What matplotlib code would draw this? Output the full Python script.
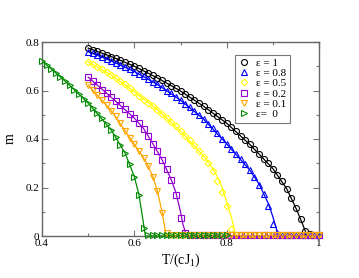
import numpy as np
import matplotlib
matplotlib.use("Agg")
import matplotlib.pyplot as plt
from matplotlib.ticker import MultipleLocator

# ---------------- data ----------------
T_green = [0.40, 0.41, 0.42, 0.43, 0.44, 0.45, 0.46, 0.47, 0.48, 0.49,
           0.50, 0.51, 0.52, 0.53, 0.54, 0.55, 0.56, 0.57, 0.58, 0.59,
           0.60, 0.61, 0.62, 0.63, 0.64, 0.65, 0.66, 0.67, 0.68, 0.69,
           0.70, 0.71, 0.72, 0.73, 0.74, 0.75, 0.76, 0.77, 0.78, 0.79, 0.80]
m_green = [0.722, 0.706, 0.690, 0.673, 0.656, 0.639, 0.622, 0.604, 0.586, 0.567,
           0.548, 0.528, 0.508, 0.487, 0.463, 0.437, 0.408, 0.377, 0.342, 0.298,
           0.245, 0.170, 0.035, 0.005, 0.005, 0.005, 0.005, 0.005, 0.005, 0.005,
           0.005, 0.005, 0.005, 0.005, 0.005, 0.005, 0.005, 0.005, 0.005, 0.005, 0.005]

T_sim = [0.50, 0.51, 0.52, 0.53, 0.54, 0.55, 0.56, 0.57, 0.58, 0.59,
         0.60, 0.61, 0.62, 0.63, 0.64, 0.65, 0.66, 0.67, 0.68, 0.69,
         0.70, 0.71, 0.72, 0.73, 0.74, 0.75, 0.76, 0.77, 0.78, 0.79,
         0.80, 0.81, 0.82, 0.83, 0.84, 0.85, 0.86, 0.87, 0.88, 0.89,
         0.90, 0.91, 0.92, 0.93, 0.94, 0.95, 0.96, 0.97, 0.98, 0.99, 1.00]

m_eps1 = [0.775, 0.768, 0.761, 0.754, 0.747, 0.740, 0.732, 0.724, 0.716, 0.708,
          0.700, 0.691, 0.681, 0.672, 0.662, 0.652, 0.642, 0.631, 0.620, 0.609,
          0.598, 0.586, 0.574, 0.561, 0.548, 0.535, 0.521, 0.507, 0.493, 0.479,
          0.465, 0.448, 0.431, 0.414, 0.396, 0.378, 0.359, 0.339, 0.319, 0.299,
          0.278, 0.253, 0.226, 0.195, 0.158, 0.115, 0.070, 0.022, 0.010, 0.006, 0.005]

m_eps08 = [0.760, 0.753, 0.746, 0.738, 0.730, 0.722, 0.714, 0.705, 0.697, 0.688,
           0.678, 0.668, 0.658, 0.648, 0.637, 0.625, 0.613, 0.600, 0.588, 0.574,
           0.560, 0.545, 0.530, 0.515, 0.499, 0.482, 0.463, 0.444, 0.424, 0.402,
           0.380, 0.360, 0.339, 0.318, 0.295, 0.272, 0.244, 0.212, 0.175, 0.125,
           0.050, 0.012, 0.005, 0.005, 0.005, 0.005, 0.005, 0.005, 0.005, 0.005, 0.005]

m_eps05 = [0.718, 0.708, 0.697, 0.687, 0.676, 0.664, 0.652, 0.639, 0.626, 0.611,
           0.595, 0.579, 0.562, 0.548, 0.535, 0.521, 0.505, 0.488, 0.470, 0.452,
           0.433, 0.414, 0.395, 0.374, 0.352, 0.327, 0.300, 0.268, 0.228, 0.180,
           0.122, 0.030, 0.005, 0.005, 0.005, 0.005, 0.005, 0.005, 0.005, 0.005,
           0.005, 0.005, 0.005, 0.005, 0.005, 0.005, 0.005, 0.005, 0.005, 0.005, 0.005]

m_eps02 = [0.655, 0.638, 0.621, 0.604, 0.588, 0.572, 0.556, 0.539, 0.522, 0.504,
           0.486, 0.467, 0.443, 0.413, 0.381, 0.349, 0.315, 0.278, 0.232, 0.170,
           0.075, 0.012, 0.005, 0.005, 0.005, 0.005, 0.005, 0.005, 0.005, 0.005,
           0.005, 0.005, 0.005, 0.005, 0.005, 0.005, 0.005, 0.005, 0.005, 0.005,
           0.005, 0.005, 0.005, 0.005, 0.005, 0.005, 0.005, 0.005, 0.005, 0.005, 0.005]

m_eps01 = [0.622, 0.603, 0.583, 0.562, 0.540, 0.517, 0.493, 0.465, 0.434, 0.405,
           0.378, 0.350, 0.322, 0.290, 0.245, 0.185, 0.094, 0.012, 0.005, 0.005,
           0.005, 0.005, 0.005, 0.005, 0.005, 0.005, 0.005, 0.005, 0.005, 0.005,
           0.005, 0.005, 0.005, 0.005, 0.005, 0.005, 0.005, 0.005, 0.005, 0.005,
           0.005, 0.005, 0.005, 0.005, 0.005, 0.005, 0.005, 0.005, 0.005, 0.005, 0.005]

# theory curves (solid lines)
Tl_eps1 = [0.50, 0.55, 0.60, 0.65, 0.70, 0.75, 0.80, 0.85, 0.90, 0.93, 0.95, 0.96, 0.97, 0.975, 1.00]
ml_eps1 = [0.775, 0.740, 0.700, 0.652, 0.598, 0.535, 0.465, 0.378, 0.278, 0.195, 0.115, 0.070, 0.022, 0.0, 0.0]

Tl_eps08 = [0.50, 0.55, 0.60, 0.65, 0.70, 0.75, 0.80, 0.85, 0.87, 0.89, 0.90, 0.912, 1.00]
ml_eps08 = [0.760, 0.722, 0.678, 0.625, 0.560, 0.482, 0.380, 0.272, 0.215, 0.135, 0.080, 0.0, 0.0]

Tl_eps05 = [0.50, 0.55, 0.60, 0.65, 0.70, 0.75, 0.77, 0.78, 0.79, 0.80, 0.81, 0.82, 1.00]
ml_eps05 = [0.718, 0.664, 0.595, 0.521, 0.433, 0.330, 0.278, 0.243, 0.200, 0.140, 0.080, 0.0, 0.0]

Tl_eps02 = [0.50, 0.55, 0.60, 0.62, 0.64, 0.66, 0.68, 0.69, 0.70, 0.705, 0.713, 1.00]
ml_eps02 = [0.655, 0.572, 0.486, 0.443, 0.381, 0.315, 0.232, 0.180, 0.100, 0.050, 0.0, 0.0]

Tl_eps01 = [0.50, 0.55, 0.58, 0.60, 0.62, 0.63, 0.64, 0.65, 0.66, 0.669, 1.00]
ml_eps01 = [0.622, 0.517, 0.434, 0.378, 0.322, 0.290, 0.245, 0.185, 0.100, 0.0, 0.0]

Tl_eps0 = [0.40, 0.45, 0.50, 0.55, 0.58, 0.60, 0.61, 0.615, 0.624, 0.80]
ml_eps0 = [0.722, 0.639, 0.548, 0.437, 0.342, 0.245, 0.170, 0.110, 0.0, 0.0]

labels = ["ε = 1", "ε = 0.8", "ε = 0.5", "ε = 0.2", "ε = 0.1", "ε=  0"]
colors = ["#000000", "#0000ff", "#ffff00", "#9400d3", "#ffa500", "#008b00"]
markers = ["o", "^", "D", "s", "v", ">"]

# ---------------- figure ----------------
plt.rcParams['font.family'] = ['Liberation Serif', 'DejaVu Serif']
plt.rcParams['mathtext.fontset'] = 'custom'
plt.rcParams['mathtext.rm'] = 'Liberation Serif'
plt.rcParams['mathtext.it'] = 'Liberation Serif'

fig = plt.figure(figsize=(3.59, 2.78), dpi=100)
ax = fig.add_axes([42 / 359, 1 - 236 / 278, 277 / 359, 194 / 278])

sims = [(T_sim, m_eps1), (T_sim, m_eps08), (T_sim, m_eps05),
        (T_sim, m_eps02), (T_sim, m_eps01), (T_green, m_green)]
lines = [(Tl_eps1, ml_eps1), (Tl_eps08, ml_eps08), (Tl_eps05, ml_eps05),
         (Tl_eps02, ml_eps02), (Tl_eps01, ml_eps01), (Tl_eps0, ml_eps0)]

msizes = [4.3, 4.3, 3.4, 4.0, 4.3, 4.3]
handles = []
for (ts, ms), (tl, ml), c, mk, lab, msz in zip(sims, lines, colors, markers, labels, msizes):
    ax.plot(tl, ml, '-', color=c, lw=0.9, zorder=2)
    h, = ax.plot(ts, ms, linestyle='none', marker=mk, ms=msz, mfc='none',
                 mec=c, mew=0.8, clip_on=False, zorder=3, label=lab)
    handles.append(h)

ax.set_xlim(0.4, 1.0)
ax.set_ylim(0.0, 0.8)
ax.xaxis.set_major_locator(MultipleLocator(0.2))
ax.xaxis.set_minor_locator(MultipleLocator(0.1))
ax.yaxis.set_major_locator(MultipleLocator(0.2))
ax.yaxis.set_minor_locator(MultipleLocator(0.1))
ax.set_xticks([0.4, 0.6, 0.8, 1.0])
ax.set_xticklabels(["0.4", "0.6", "0.8", "1"])
ax.set_yticks([0, 0.2, 0.4, 0.6, 0.8])
ax.set_yticklabels(["0", "0.2", "0.4", "0.6", "0.8"])
ax.tick_params(which='both', direction='in', top=True, right=True,
               color='#777777', labelsize=8, pad=2)
ax.tick_params(which='major', length=4.5, width=0.8)
ax.tick_params(which='minor', length=2.5, width=0.8)
for s in ax.spines.values():
    s.set_color('#666666')
    s.set_linewidth(1.0)

ax.set_xlabel("T/(cJ$_\\mathregular{1}$)", fontsize=10, labelpad=3)
ax.set_ylabel("m", fontsize=10, labelpad=6)

leg = ax.legend(handles=handles, loc='upper left', bbox_to_anchor=(0.697, 0.935),
                fontsize=8, frameon=True, fancybox=False, edgecolor='#777777',
                framealpha=1, handlelength=1.0, handletextpad=0.6,
                labelspacing=0.05, borderpad=0.3, borderaxespad=0)
leg.get_frame().set_linewidth(0.8)

fig.savefig("out.png", dpi=100)
